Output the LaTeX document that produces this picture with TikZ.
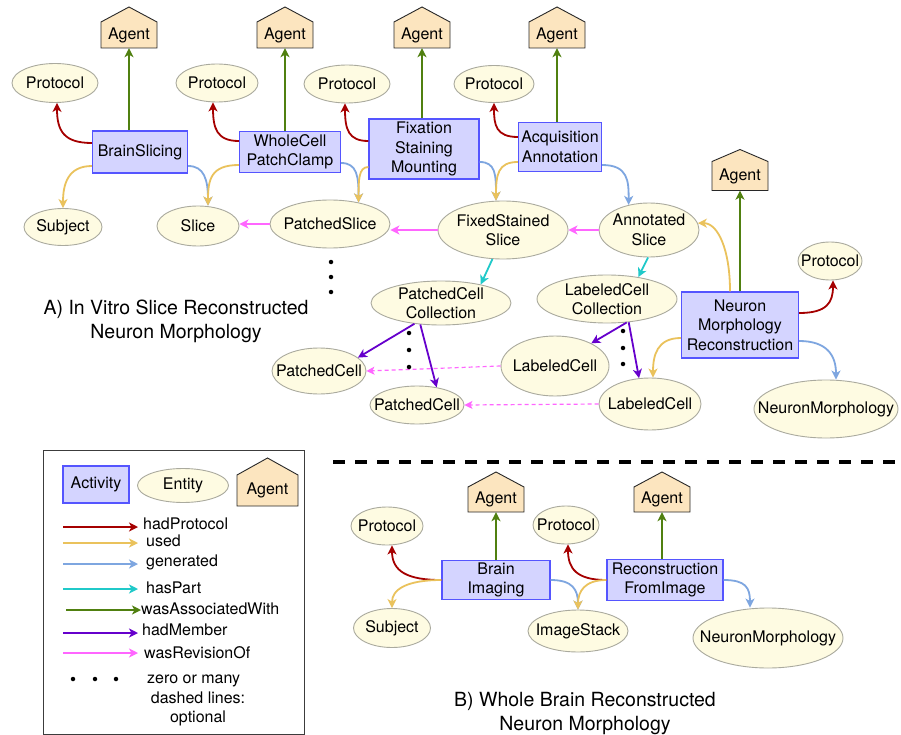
\documentclass[tikz,border=0pt]{standalone}
\usepackage{fontspec}
\setmainfont{TeX Gyre Heros}
\usetikzlibrary{shapes.geometric,arrows.meta,calc}
\definecolor{actfill}{RGB}{212,212,255}
\definecolor{actline}{RGB}{85,85,255}
\definecolor{entfill}{RGB}{254,251,226}
\definecolor{entline}{RGB}{170,170,158}
\definecolor{agfill}{RGB}{252,229,191}
\definecolor{agline}{RGB}{40,40,40}
\definecolor{hpc}{RGB}{165,0,0}
\definecolor{usc}{RGB}{234,194,92}
\definecolor{gnc}{RGB}{126,166,224}
\definecolor{hpartc}{RGB}{32,201,201}
\definecolor{wawc}{RGB}{80,128,16}
\definecolor{hmc}{RGB}{102,0,204}
\definecolor{revc}{RGB}{255,102,255}
\definecolor{legline}{RGB}{60,60,60}
\newcommand{\nodefnt}{\fontsize{16}{19.5}\selectfont}
\newcommand{\titlefnt}{\fontsize{19.5}{23.5}\selectfont}
% name, cx, cy (body centre), width, body height, roof height
\newcommand{\agentat}[6]{%
  \filldraw[agentshape] (#2-#4/2,#3+#5/2) -- (#2-#4/2,#3-#5/2) -- (#2,#3-#5/2-#6) -- (#2+#4/2,#3-#5/2) -- (#2+#4/2,#3+#5/2) -- cycle;
  \node[agenttext, minimum width=#4, minimum height=#5] (#1) at (#2,#3) {Agent};}
\begin{document}
\begin{tikzpicture}[x=1pt,y=-1pt,
  act/.style={draw=actline, fill=actfill, line width=1.2pt, inner sep=1pt, align=center, font=\nodefnt},
  ent/.style={ellipse, draw=entline, fill=entfill, line width=0.9pt, inner xsep=-30pt, inner ysep=-15pt, align=center, font=\nodefnt},
  agentshape/.style={draw=agline, fill=agfill, line width=0.9pt, line join=miter},
  agenttext/.style={inner sep=0pt, font=\nodefnt},
  arr/.style={line width=1.8pt, -{Stealth[length=9pt,width=9pt,inset=2.5pt]}},
  darr/.style={line width=1.2pt, dash pattern=on 4pt off 3pt, -{Stealth[length=8pt,width=8pt,inset=2pt]}},
  larr/.style={line width=1.5pt, -{Stealth[length=9pt,width=9pt,inset=2.5pt]}},
  leglabel/.style={anchor=base west, inner sep=0pt, font=\nodefnt},
  titletext/.style={align=center, inner sep=0pt, font=\titlefnt},
  dotnode/.style={circle, fill=black, inner sep=0pt, minimum size=4.5pt},
  sep/.style={line width=3.5pt, dash pattern=on 12pt off 10pt}
]
\useasboundingbox (0,0) rectangle (901,735);
\fill[white] (0,0) rectangle (901,735);

% ---------------- Section A ----------------
\agentat{ag1}{129}{35}{56}{26}{15}
\agentat{ag2}{285}{35}{56}{26}{15}
\agentat{ag3}{422}{35}{56}{26}{15}
\agentat{ag4}{557}{35}{56}{26}{15}
\agentat{ag5}{740}{176}{56}{29}{12}

\node[ent, minimum width=86, minimum height=39] (p1) at (55,83) {Protocol};
\node[act, minimum width=95, minimum height=42] (bs) at (140,152) {BrainSlicing};
\node[ent, minimum width=78, minimum height=37] (sub1) at (63,227) {Subject};
\node[ent, minimum width=82, minimum height=38] (p2) at (217,83) {Protocol};
\node[act, minimum width=101, minimum height=41] (wc) at (290,152) {WholeCell\\PatchClamp};
\node[ent, minimum width=82, minimum height=40] (slice) at (198,226) {Slice};
\node[ent, minimum width=120, minimum height=48] (ps) at (330,224) {PatchedSlice};
\node[ent, minimum width=86, minimum height=38] (p3) at (347,84) {Protocol};
\node[act, minimum width=110, minimum height=60] (fx) at (424,149) {Fixation\\Staining\\Mounting};
\node[ent, minimum width=130, minimum height=58] (fss) at (503,230) {FixedStained\\Slice};
\node[ent, minimum width=80, minimum height=37] (p4) at (494,84) {Protocol};
\node[act, minimum width=83, minimum height=49] (aq) at (560,147) {Acquisition\\Annotation};
\node[ent, minimum width=100, minimum height=54] (as) at (649,230) {Annotated\\Slice};
\node[ent, minimum width=64, minimum height=38] (p5) at (830,261) {Protocol};
\node[act, minimum width=117, minimum height=66] (nmr) at (740,325) {Neuron\\Morphology\\Reconstruction};
\node[ent, minimum width=144, minimum height=58] (nm1) at (826,409) {NeuronMorphology};
\node[ent, minimum width=140, minimum height=48] (lcc) at (607,299) {LabeledCell\\Collection};
\node[ent, minimum width=140, minimum height=44] (pcc) at (441,303) {PatchedCell\\Collection};
\node[ent, minimum width=108, minimum height=60] (lc1) at (555,366) {LabeledCell};
\node[ent, minimum width=102, minimum height=52] (lc2) at (650,404) {LabeledCell};
\node[ent, minimum width=94, minimum height=46] (pc1) at (319,371) {PatchedCell};
\node[ent, minimum width=94, minimum height=38] (pc2) at (417,405) {PatchedCell};

\node[titletext] (ta) at (176,321.5) {A) In Vitro Slice Reconstructed\\Neuron Morphology};

% BrainSlicing
\draw[arr,hpc] ([yshift=9pt]bs.west) .. controls +(-28,0) and +(0,28) .. ([xshift=2pt]p1.south);
\draw[arr,usc] ([yshift=-14pt]bs.west) .. controls +(-24,0) and +(0,-24) .. (sub1.north);
\draw[arr,gnc] ([yshift=-14pt]bs.east) .. controls +(16,0) and +(0,-26) .. ([xshift=10pt]slice.north);
\draw[arr,wawc] (ag1.south |- bs.north) -- (ag1.south);
% WholeCell PatchClamp
\draw[arr,hpc] ([yshift=11pt]wc.west) .. controls +(-22,0) and +(0,26) .. ([xshift=-4pt]p2.south);
\draw[arr,usc] ([yshift=-13pt]wc.west) .. controls +(-28,0) and +(0,-26) .. ([xshift=10pt]slice.north);
\draw[arr,gnc] ([yshift=-11pt]wc.east) .. controls +(16,0) and +(0,-26) .. (ps.37);
\draw[arr,wawc] (ag2.south |- wc.north) -- (ag2.south);
% Fixation
\draw[arr,hpc] ([yshift=8pt]fx.west) .. controls +(-20,0) and +(0,26) .. ([xshift=-2pt]p3.south);
\draw[arr,usc] ([yshift=-18pt]fx.west) .. controls +(-10,0) and +(0,-22) .. (ps.37);
\draw[arr,gnc] ([yshift=-13pt]fx.east) .. controls +(16,0) and +(0,-26) .. ([xshift=-7pt]fss.north);
\draw[arr,wawc] (ag3.south |- fx.north) -- (ag3.south);
% Acquisition
\draw[arr,hpc] ([yshift=10pt]aq.west) .. controls +(-22,0) and +(0,22) .. (p4.south);
\draw[arr,usc] ([yshift=-15pt]aq.west) .. controls +(-20,0) and +(0,-26) .. ([xshift=-7pt]fss.north);
\draw[arr,gnc] ([yshift=-18pt]aq.east) .. controls +(26,0) and +(0,-24) .. (as.129);
\draw[arr,wawc] (ag4.south |- aq.north) -- (ag4.south);
% revisions
\draw[arr,revc] (ps.west) -- (ps.west -| slice.east);
\draw[arr,revc] (fss.west) -- (fss.west -| ps.east);
\draw[arr,revc] (as.west) -- (fss.east);
\draw[darr,revc] (lc1.west) -- (pc1.east);
\draw[darr,revc] (lc2.west) -- (pc2.east);
% hasPart
\draw[arr,hpartc] (fss.250) -- (pcc.25);
\draw[arr,hpartc] (as.268) -- (lcc.35);
% hadMember
\draw[arr,hmc] (pcc.218) -- (pc1.19);
\draw[arr,hmc] (pcc.226) -- (pc2.42);
\draw[arr,hmc] (lcc.310) -- (lc1.32);
\draw[arr,hmc] (lcc.313) -- (lc2.113);
% Neuron Morphology Reconstruction
\draw[arr,wawc] (nmr.north) -- (ag5.south);
\draw[arr,usc] ([xshift=-10pt]nmr.north) .. controls +(0,-42) and +(20,0) .. (as.8);
\draw[arr,hpc] ([yshift=12pt]nmr.east) .. controls +(28,0) and +(0,22) .. ([xshift=3pt]p5.south);
\draw[arr,usc] ([yshift=-13pt]nmr.west) .. controls +(-24,0) and +(0,-22) .. ([xshift=3pt]lc2.north);
\draw[arr,gnc] ([yshift=-16pt]nmr.east) .. controls +(28,0) and +(0,-24) .. ([xshift=10pt]nm1.north);

% zero-or-many dots
\node[dotnode] (da1) at (331,262) {};
\node[dotnode] (da2) at (331,277) {};
\node[dotnode] (da3) at (331,292) {};
\node[dotnode] (db1) at (409,333) {};
\node[dotnode] (db2) at (409,350) {};
\node[dotnode] (db3) at (409,367) {};
\node[dotnode] (dc1) at (623,331) {};
\node[dotnode] (dc2) at (623,348) {};
\node[dotnode] (dc3) at (623,364) {};

% separator
\coordinate (sepl) at (333,462);
\coordinate (sepr) at (897,462);
\draw[sep] (sepl) -- (sepr);

% ---------------- Section B ----------------
\agentat{agb1}{496}{499.5}{56}{25}{15}
\agentat{agb2}{662}{499.5}{56}{25}{15}
\node[ent, minimum width=72, minimum height=38] (pb1) at (387,526) {Protocol};
\node[ent, minimum width=66, minimum height=38] (pb2) at (566,525) {Protocol};
\node[act, minimum width=108, minimum height=39] (bi) at (496,580) {Brain\\Imaging};
\node[act, minimum width=116, minimum height=41] (rf) at (665,580) {Reconstruction\\FromImage};
\node[ent, minimum width=77, minimum height=39] (subb) at (392,628) {Subject};
\node[ent, minimum width=100, minimum height=42] (ims) at (578,631) {ImageStack};
\node[ent, minimum width=150, minimum height=60] (nmb) at (768,638) {NeuronMorphology};
\node[titletext] (tb) at (585,713.5) {B) Whole Brain Reconstructed\\Neuron Morphology};

\draw[arr,wawc] (agb1.south |- bi.north) -- (agb1.south);
\draw[arr,hpc] (bi.west) .. controls +(-34,0) and +(0,26) .. ([xshift=5pt]pb1.south);
\draw[arr,usc] (bi.west) .. controls +(-36,0) and +(0,-18) .. (subb.north);
\draw[arr,gnc] (bi.east) .. controls +(22,0) and +(0,-20) .. (ims.north);
\draw[arr,wawc] (agb2.south |- rf.north) -- (agb2.south);
\draw[arr,hpc] (rf.west) .. controls +(-30,0) and +(0,24) .. ([xshift=2pt]pb2.south);
\draw[arr,usc] (rf.west) .. controls +(-22,0) and +(0,-18) .. (ims.north);
\draw[arr,gnc] (rf.east) .. controls +(22,0) and +(0,-20) .. ([xshift=-18pt]nmb.north);

% ---------------- Legend ----------------
\node[draw=legline, line width=0.8pt, minimum width=261, minimum height=284, inner sep=0pt] (leg) at (173.5,592) {};
\node[act, minimum width=66, minimum height=37] (lact) at (96,484.5) {Activity};
\node[ent, minimum width=91, minimum height=34] (lent) at (183,485.5) {Entity};
\agentat{lag}{267.5}{490.5}{61}{31}{17}

\coordinate (l1a) at (63,527);  \coordinate (l1b) at (138,527);
\coordinate (l2a) at (63,543);  \coordinate (l2b) at (138,543);
\coordinate (l3a) at (63,564);  \coordinate (l3b) at (138,564);
\coordinate (l4a) at (63,589);  \coordinate (l4b) at (138,589);
\coordinate (l5a) at (66,610);  \coordinate (l5b) at (141,610);
\coordinate (l6a) at (63,633);  \coordinate (l6b) at (138,633);
\coordinate (l7a) at (63,653);  \coordinate (l7b) at (138,653);
\draw[larr,hpc] (l1a) -- (l1b);
\draw[larr,usc] (l2a) -- (l2b);
\draw[larr,gnc] (l3a) -- (l3b);
\draw[larr,hpartc] (l4a) -- (l4b);
\draw[larr,wawc] (l5a) -- (l5b);
\draw[larr,hmc] (l6a) -- (l6b);
\draw[larr,revc] (l7a) -- (l7b);
\node[leglabel] (t1) at (143,529) {hadProtocol};
\node[leglabel] (t2) at (146,546) {used};
\node[leglabel] (t3) at (146,566) {generated};
\node[leglabel] (t4) at (146,593) {hasPart};
\node[leglabel] (t5) at (141,614) {wasAssociatedWith};
\node[leglabel] (t6) at (142,635) {hadMember};
\node[leglabel] (t7) at (144,658) {wasRevisionOf};
\node[dotnode] (ld1) at (73,679) {};
\node[dotnode] (ld2) at (95,679) {};
\node[dotnode] (ld3) at (116,679) {};
\node[leglabel] (t8) at (147,683.5) {zero or many};
\node[align=center, inner sep=0pt, font=\nodefnt] (t9) at (198,709) {dashed lines:\\optional};
\end{tikzpicture}
\end{document}
